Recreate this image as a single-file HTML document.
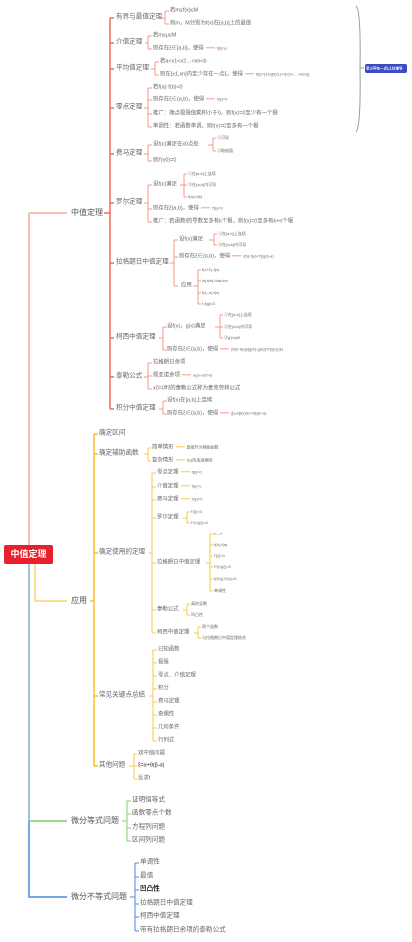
<!DOCTYPE html>
<html><head><meta charset="utf-8"><style>
html,body{margin:0;padding:0;background:#fff;width:412px;height:942px;overflow:hidden;position:relative}
.t{position:absolute;white-space:nowrap;transform:translateY(-50%);color:#666;font-family:"Liberation Sans","Noto Sans CJK SC",sans-serif;line-height:1}
.a{font-size:8px;color:#555}.b{font-size:6.6px}.c{font-size:5.4px}.d{font-size:4px}
i{display:inline-block;width:9px;height:1px;vertical-align:middle;margin:0 2px}
.r i{background:#f59a8c}.o i{background:#fbc94a}
svg{position:absolute;left:0;top:0}
</style></head><body>
<svg width="412" height="942" fill="none" stroke-width="1">
<g stroke="#f36b5b">
<path d="M29 213V545M29 213H67" stroke="#f8a79b" stroke-width="1.5"/>
<path d="M104 213H110M110 18V409M110 18h4M110 43h4M110 69h4M110 108h4M110 154h4M110 203h4M110 263h4M110 338h4M110 377h4M110 409h4" stroke-width="1.5"/>
</g>
<g stroke="#f59a8c">
<path d="M161 18h4M165 11V24M165 11h4M165 24h4"/>
<path d="M145 43h3M148 36V49M148 36h4M148 49h4"/>
<path d="M151 69h4M155 62V75M155 62h4M155 75h4"/>
<path d="M144 108h4M148 88V127M148 88h4M148 100h4M148 114h4M148 127h4"/>
<path d="M144 154h4M148 145V161M148 145h4M148 161h4M208 145h5M213 138V151M213 138h3M213 151h3"/>
<path d="M144 203h4M148 185V222M148 185h4M148 209h4M148 222h4M180 185h4M184 174V197M184 174h3M184 185h3M184 197h3"/>
<path d="M170 263h4M174 240V286M174 240h4M174 257h4M174 286h4M209 240h5M214 234V245M214 234h3M214 245h3M193 286h5M198 270V304M198 270h3M198 281h3M198 293h3M198 304h3"/>
<path d="M159 338h4M163 327V350M163 327h4M163 350h4M215 327h5M220 315V338M220 315h3M220 327h3M220 338h3"/>
<path d="M144 377h4M148 363V389M148 363h4M148 376h4M148 389h4"/>
<path d="M159 409h4M163 401V414M163 401h4M163 414h4"/>
</g>
<g stroke="#fbbd2c">
<path d="M35 563V601H67" stroke="#fcd16a" stroke-width="1.5"/>
<path d="M90 601H94M94 434V766M94 434h4M94 454h4M94 553h4M94 696h4M94 766h4" stroke-width="1.5"/>
</g>
<g stroke="#fcc94a">
<path d="M144 454h4M148 448V461M148 448h3M148 461h3"/>
<path d="M149 553h3M152 473V633M152 473h4M152 487h4M152 500h4M152 518h4M152 563h4M152 610h4M152 633h4"/>
<path d="M183 518h4M187 512V523M187 512h3M187 523h3"/>
<path d="M206 563h4M210 534V591M210 534h3M210 545h3M210 556h3M210 567h3M210 579h3M210 591h3"/>
<path d="M183 610h4M187 604V615M187 604h3M187 615h3"/>
<path d="M194 633h4M198 627V638M198 627h3M198 638h3"/>
<path d="M149 696h4M153 650V741M153 650h4M153 663h4M153 676h4M153 689h4M153 702h4M153 715h4M153 728h4M153 741h4"/>
<path d="M129 766h5M134 754V779M134 754h3M134 766h3M134 779h3"/>
</g>
<path d="M29 563V821" stroke="#7ab0d8" stroke-width="1.5"/>
<path d="M29 821V897H67" stroke="#4a8ad8" stroke-width="1.5"/>
<path d="M29 821H67" stroke="#7ccf6a" stroke-width="1.5"/>
<path d="M122 821h5M127 801V841M127 801h4M127 814h4M127 828h4M127 841h4" stroke="#7ccf6a"/>
<path d="M130 897h5M135 863V931M135 863h4M135 877h4M135 890h4M135 904h4M135 917h4M135 931h4" stroke="#4a8ad8"/>
<path d="M356 6Q361 10 360 68Q361 126 356 132M360 68h4" stroke="#999"/>
<rect x="365" y="64" width="42" height="9" rx="2" fill="#3b4bc0"/>
</svg>
<div class="t" style="left:366px;top:68.5px;font-size:3.5px;color:#fff;font-weight:bold">至少存在一点ξ上位推导</div>

<div style="position:absolute;left:4px;top:545px;width:49px;height:19px;background:#e8202e;border-radius:2px;color:#fff;font:bold 9px/19px 'Liberation Sans','Noto Sans CJK SC',sans-serif;text-align:center">中值定理</div>

<div class="r">
<div class="t a" style="left:71px;top:213px">中值定理</div>
<div class="t b" style="left:116px;top:18px">有界与最值定理</div>
<div class="t c" style="left:170px;top:11px">若m≤f(x)≤M</div>
<div class="t c" style="left:170px;top:24px">则m，M分别为f(x)在[a,b]上的最值</div>
<div class="t b" style="left:116px;top:43px">介值定理</div>
<div class="t c" style="left:153px;top:36px">若m≤μ≤M</div>
<div class="t c" style="left:153px;top:49px">则存在ξ∈[a,b]，使得<i></i><span class="d">f(ξ)=μ</span></div>
<div class="t b" style="left:116px;top:69px">平均值定理</div>
<div class="t c" style="left:160px;top:62px">若a&lt;x1&lt;x2…&lt;xn&lt;b</div>
<div class="t c" style="left:160px;top:75px">则在[x1,xn]内至少存在一点ξ，使得<i></i><span class="d">f(ξ)=(1/n)[f(x1)+f(x2)+…+f(xn)]</span></div>
<div class="t b" style="left:116px;top:108px">零点定理</div>
<div class="t c" style="left:153px;top:88px">若f(a)·f(b)&lt;0</div>
<div class="t c" style="left:153px;top:100px">则存在ξ∈(a,b)，使得<i></i><span class="d">f(ξ)=0</span></div>
<div class="t c" style="left:153px;top:114px">推广：端点极限值乘积小于0，则f(x)=0至少有一个根</div>
<div class="t c" style="left:153px;top:127px">单调性：若函数单调，则f(x)=0至多有一个根</div>
<div class="t b" style="left:116px;top:154px">费马定理</div>
<div class="t c" style="left:153px;top:145px">设f(x)满足在x0点处</div>
<div class="t d" style="left:217px;top:138px">①可导</div>
<div class="t d" style="left:217px;top:151px">②取极值</div>
<div class="t c" style="left:153px;top:161px">则f'(x0)=0</div>
<div class="t b" style="left:116px;top:203px">罗尔定理</div>
<div class="t c" style="left:153px;top:185px">设f(x)满足</div>
<div class="t d" style="left:188px;top:174px">①在[a,b]上连续</div>
<div class="t d" style="left:188px;top:185px">②在(a,b)内可导</div>
<div class="t d" style="left:188px;top:197px">f(a)=f(b)</div>
<div class="t c" style="left:153px;top:209px">则存在ξ(a,b)，使得<i></i><span class="d">f'(ξ)=0</span></div>
<div class="t c" style="left:153px;top:222px">推广：若函数f的导数至多有k个根，则f(x)=0至多有k+n个根</div>
<div class="t b" style="left:116px;top:263px">拉格朗日中值定理</div>
<div class="t c" style="left:179px;top:240px">设f(x)满足</div>
<div class="t d" style="left:218px;top:234px">①在[a,b]上连续</div>
<div class="t d" style="left:218px;top:245px">②在(a,b)内可导</div>
<div class="t c" style="left:179px;top:257px">则存在ξ∈(a,b)，使得<i></i><span class="d">f(b)-f(a)=f'(ξ)(b-a)</span></div>
<div class="t c" style="left:181px;top:286px">应用</div>
<div class="t d" style="left:202px;top:270px">f(x+1)-f(x)</div>
<div class="t d" style="left:202px;top:281px">ln(a/b)=lna-lnb</div>
<div class="t d" style="left:202px;top:293px">f(x_n)-f(x)</div>
<div class="t d" style="left:202px;top:304px">f-f(g)f-0</div>
<div class="t b" style="left:116px;top:338px">柯西中值定理</div>
<div class="t c" style="left:167px;top:327px">设f(x)，g(x)满足</div>
<div class="t d" style="left:224px;top:315px">①在[a,b]上连续</div>
<div class="t d" style="left:224px;top:327px">②在(a,b)内可导</div>
<div class="t d" style="left:224px;top:338px">③g'(x)≠0</div>
<div class="t c" style="left:167px;top:350px">则存在ξ∈(a,b)，使得<i></i><span class="d">[f(b)-f(a)]/[g(b)-g(a)]=f'(ξ)/g'(ξ)</span></div>
<div class="t b" style="left:116px;top:377px">泰勒公式</div>
<div class="t c" style="left:153px;top:363px">拉格朗日余项</div>
<div class="t c" style="left:153px;top:376px">佩亚诺余项<i></i><span class="d">o((x-x0)^n)</span></div>
<div class="t c" style="left:153px;top:389px">x0=0时的泰勒公式称为麦克劳林公式</div>
<div class="t b" style="left:116px;top:409px">积分中值定理</div>
<div class="t c" style="left:167px;top:401px">设f(x)在[a,b]上连续</div>
<div class="t c" style="left:167px;top:414px">则存在ξ∈(a,b)，使得<i></i><span class="d">∫[a,b]f(x)dx=f(ξ)(b-a)</span></div>
</div>

<div class="o">
<div class="t a" style="left:71px;top:601px">应用</div>
<div class="t b" style="left:99px;top:434px">确定区间</div>
<div class="t b" style="left:99px;top:454px">确定辅助函数</div>
<div class="t c" style="left:152px;top:448px">简单情形<i></i><span class="d">直接作为辅助函数</span></div>
<div class="t c" style="left:152px;top:461px">复杂情形<i></i><span class="d">f(x)的加减乘除</span></div>
<div class="t b" style="left:99px;top:553px">确定使用的定理</div>
<div class="t c" style="left:157px;top:473px">零点定理<i></i><span class="d">f(ξ)=0</span></div>
<div class="t c" style="left:157px;top:487px">介值定理<i></i><span class="d">f(ξ)=c</span></div>
<div class="t c" style="left:157px;top:500px">费马定理<i></i><span class="d">f'(ξ)=0</span></div>
<div class="t c" style="left:157px;top:518px">罗尔定理</div>
<div class="t d" style="left:191px;top:512px">f'(ξ)=0</div>
<div class="t d" style="left:191px;top:523px">f^(n)(ξ)=0</div>
<div class="t c" style="left:157px;top:563px">拉格朗日中值定理</div>
<div class="t d" style="left:214px;top:534px">f----f'</div>
<div class="t d" style="left:214px;top:545px">f(b)-f(a)</div>
<div class="t d" style="left:214px;top:556px">f'(ξ)&gt;0</div>
<div class="t d" style="left:214px;top:567px">f^(n)(ξ)&gt;0</div>
<div class="t d" style="left:214px;top:579px">f(f'(η),f'(τ))=0</div>
<div class="t d" style="left:214px;top:591px">单调性</div>
<div class="t c" style="left:157px;top:610px">泰勒公式</div>
<div class="t d" style="left:191px;top:604px">高阶导数</div>
<div class="t d" style="left:191px;top:615px">凹凸性</div>
<div class="t c" style="left:157px;top:633px">柯西中值定理</div>
<div class="t d" style="left:202px;top:627px">两个函数</div>
<div class="t d" style="left:202px;top:638px">与拉格朗日中值定理结合</div>
<div class="t b" style="left:99px;top:696px">常见关键点总结</div>
<div class="t c" style="left:158px;top:650px">已知函数</div>
<div class="t c" style="left:158px;top:663px">极限</div>
<div class="t c" style="left:158px;top:676px">零点、介值定理</div>
<div class="t c" style="left:158px;top:689px">积分</div>
<div class="t c" style="left:158px;top:702px">费马定理</div>
<div class="t c" style="left:158px;top:715px">奇偶性</div>
<div class="t c" style="left:158px;top:728px">几何条件</div>
<div class="t c" style="left:158px;top:741px">行列式</div>
<div class="t b" style="left:99px;top:766px">其他问题</div>
<div class="t c" style="left:138px;top:754px">双中值问题</div>
<div class="t c" style="left:138px;top:766px;color:#222">ξ=α+θ(β-α)</div>
<div class="t c" style="left:138px;top:779px">反求f</div>
</div>

<div class="t a" style="left:71px;top:821px">微分等式问题</div>
<div class="t b" style="left:132px;top:801px">证明恒等式</div>
<div class="t b" style="left:132px;top:814px">函数零点个数</div>
<div class="t b" style="left:132px;top:828px">方程列问题</div>
<div class="t b" style="left:132px;top:841px">区间列问题</div>

<div class="t a" style="left:71px;top:897px">微分不等式问题</div>
<div class="t b" style="left:140px;top:863px">单调性</div>
<div class="t b" style="left:140px;top:877px">最值</div>
<div class="t b" style="left:140px;top:890px;color:#222;font-weight:bold">凹凸性</div>
<div class="t b" style="left:140px;top:904px">拉格朗日中值定理</div>
<div class="t b" style="left:140px;top:917px">柯西中值定理</div>
<div class="t b" style="left:140px;top:931px">带有拉格朗日余项的泰勒公式</div>
</body></html>
